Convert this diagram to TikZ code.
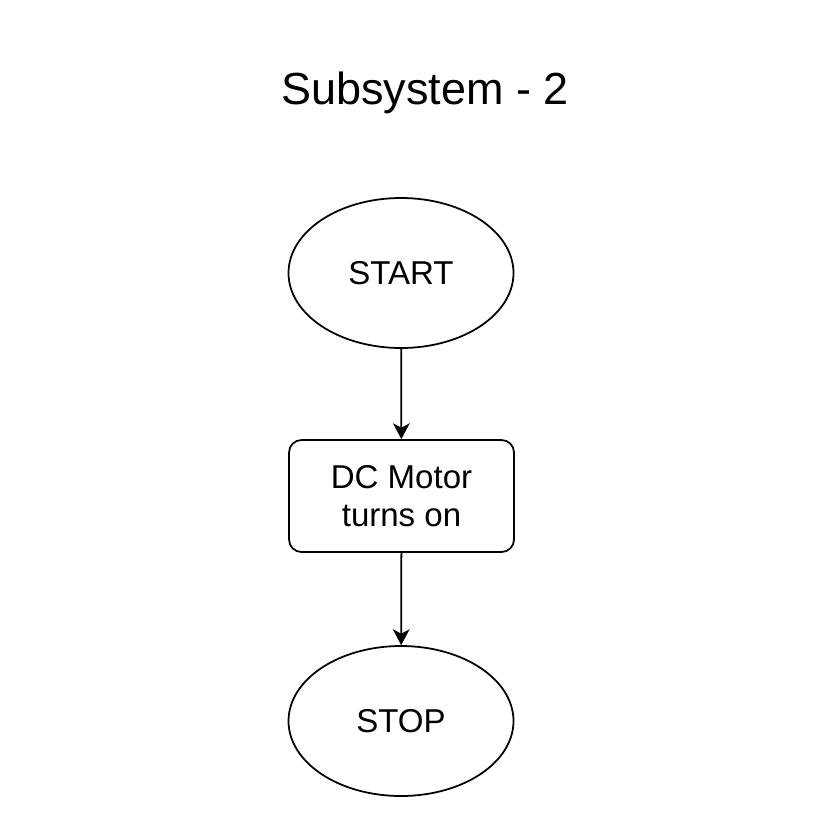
\documentclass[tikz,border=0pt]{standalone}
\usepackage{fontspec}
\setmainfont{Liberation Sans}
\usetikzlibrary{shapes.geometric,arrows.meta}

\begin{document}
\begin{tikzpicture}[
        terminal/.style={draw,ellipse,line width=1pt,minimum width=4.5cm,minimum height=3cm,font=\fontsize{18.8}{22}\selectfont},
        process/.style={draw,rectangle,rounded corners=0.25cm,line width=1pt,minimum width=4.5cm,minimum height=2.24cm,align=center,font=\fontsize{18.8}{22}\selectfont},
        flow/.style={-{Stealth[length=9pt,width=9.5pt,inset=2.5pt]},line width=1pt}
    ]
        \useasboundingbox (0,0) rectangle (16.58,-16.54);

        \node[anchor=base,font=\fontsize{25.6}{30}\selectfont] (title) at (8.5,-2.08) {Subsystem - 2};

        \node[terminal] (start) at (8.02,-5.46) {START};
        \node[process] (motor) at (8.03,-9.92) {DC Motor\\turns on};
        \node[terminal] (stop) at (8.02,-14.42) {STOP};

        \draw[flow] (start) -- (motor);
        \draw[flow] (motor) -- (stop);

    \end{tikzpicture}
\end{document}
